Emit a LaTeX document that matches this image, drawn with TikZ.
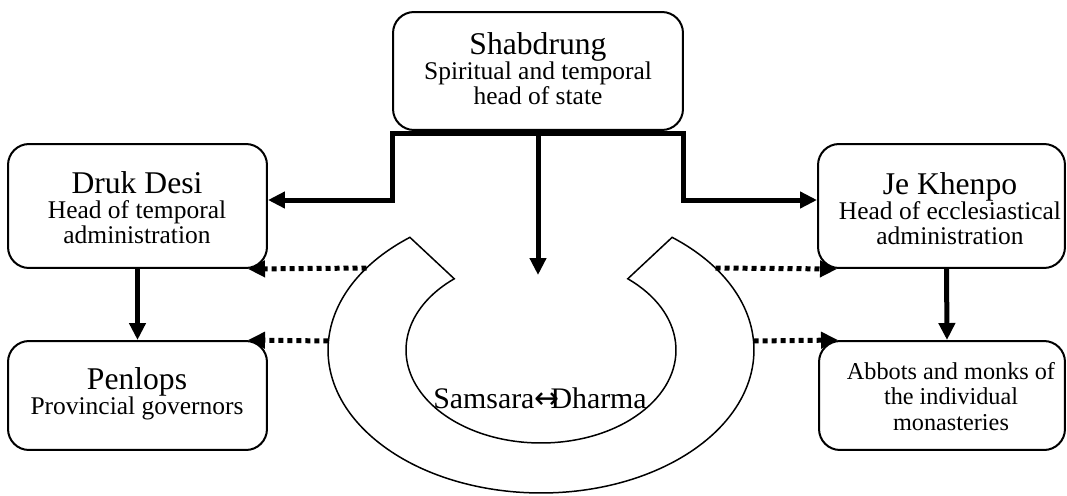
\documentclass[tikz,border=0pt]{standalone}
\usepackage{fontspec}
\setmainfont{Liberation Serif}
\newfontfamily\arrowfont{DejaVu Sans}
\usetikzlibrary{arrows.meta}

\newcommand{\headfont}{\fontsize{18}{17}\selectfont}

\tikzset{
  office/.style={draw, line width=0.04cm, rounded corners=0.42cm, inner sep=0pt},
  duties/.style={anchor=north, inner sep=0pt, align=center,
                 font=\fontsize{14.5}{14.4}\selectfont},
  rule/.style={line width=0.1cm, ->},
  hint/.style={line width=0.1cm, dash pattern=on 0.1cm off 0.08cm, ->},
}

\begin{document}
\begin{tikzpicture}[x=0.02cm, y=0.02cm, >={Triangle[length=0.34cm,width=0.32cm]}]
  \useasboundingbox (0,0) rectangle (1067,495);

  % offices
  \node[office, minimum width=5.8cm,  minimum height=2.36cm] (shab)    at (538,424)   {};
  \node[office, minimum width=5.18cm, minimum height=2.48cm] (druk)    at (137.5,289) {};
  \node[office, minimum width=4.94cm, minimum height=2.48cm] (jek)     at (941.5,289) {};
  \node[office, minimum width=5.18cm, minimum height=2.18cm] (penlops) at (137.5,99.5) {};
  \node[office, minimum width=4.92cm, minimum height=2.18cm] (abbots)  at (942,99.5)  {};

  \node[duties] (shabtext)    at (538,463) {{\headfont Shabdrung}\\Spiritual and temporal\\head of state};
  \node[duties] (druktext)    at (137,324) {{\headfont Druk Desi}\\Head of temporal\\administration};
  \node[duties] (jektext)     at (950,323) {{\headfont Je Khenpo}\\Head of ecclesiastical\\administration};
  \node[duties] (penlopstext) at (137,128) {{\headfont Penlops}\\Provincial governors};
  \node[duties, font=\fontsize{13.8}{14.4}\selectfont] (abbotstext) at (951,133)
      {Abbots and monks of\\the individual\\monasteries};

  % wheel
  \coordinate (ringc) at (541,145);
  \draw[line width=0.03cm, fill=white] (ringc) ++(128:4.26cm and 2.86cm)
      arc[start angle=128, end angle=412, x radius=4.26cm, y radius=2.86cm]
      -- ([shift={(50:2.7cm and 1.86cm)}]ringc)
      arc[start angle=50, end angle=-230, x radius=2.7cm, y radius=1.86cm] -- cycle;
  \node[anchor=base, font=\fontsize{17}{18}\selectfont] (wheeltext) at (540,87)
      {Samsara{\arrowfont ↔}\kern-0.3em Dharma};

  \coordinate (ringtl) at (366.5,227);
  \coordinate (ringbl) at (328.4,154);
  \coordinate (ringtr) at (715.5,227);
  \coordinate (ringbr) at (753.6,154);
  \coordinate (centretip) at (538,220);

  % authority
  \draw[rule] ([yshift=-0.06cm]shab.south) -- ([yshift=-0.06cm]shab.south west) |- ([yshift=0.12cm]druk.east);
  \draw[rule] ([yshift=-0.06cm]shab.south) -- ([yshift=-0.06cm]shab.south east) |- ([yshift=0.12cm]jek.west);
  \draw[rule] ([yshift=-0.06cm]shab.south) -- (centretip);
  \draw[rule] (druk.south) -- (penlops.north);
  \draw[rule] ([xshift=0.1cm]jek.south) -- ([xshift=0.1cm]abbots.north);

  % influence of the wheel
  \draw[hint] (ringtl) -- ([xshift=-0.4cm]druk.south east);
  \draw[hint] (ringbl) -- ([xshift=-0.4cm]penlops.north east);
  \draw[hint] (ringtr) -- ([xshift=0.4cm]jek.south west);
  \draw[hint] (ringbr) -- ([xshift=0.4cm]abbots.north west);
\end{tikzpicture}
\end{document}
